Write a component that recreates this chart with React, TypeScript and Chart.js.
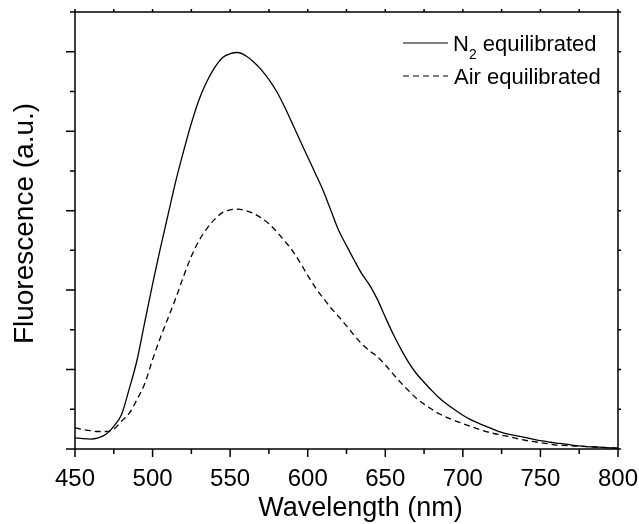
import React, { useEffect, useRef } from "react";
import { Chart, registerables } from "chart.js";

Chart.register(...registerables);

// ---- Data ----
const wavelengths = [
  450, 455, 460, 465, 470, 475, 480, 485, 490, 495, 500, 505, 510, 515, 520, 525, 530, 535, 540, 545,
  550, 555, 560, 565, 570, 575, 580, 585, 590, 595, 600, 605, 610, 615, 620, 625, 630, 635, 640, 645,
  650, 655, 660, 665, 670, 675, 680, 685, 690, 695, 700, 705, 710, 715, 720, 725, 730, 735, 740, 745,
  750, 755, 760, 765, 770, 775, 780, 785, 790, 795, 800,
];

const n2Values = [
  0.28, 0.26, 0.25, 0.28, 0.37, 0.57, 0.87, 1.52, 2.24, 3.2, 4.15, 5.05, 5.9, 6.75, 7.5, 8.2, 8.8, 9.25, 9.6, 9.85,
  9.95, 9.98, 9.9, 9.75, 9.55, 9.3, 9.0, 8.62, 8.2, 7.77, 7.35, 6.93, 6.5, 6.0, 5.5, 5.12, 4.75, 4.4, 4.12, 3.76,
  3.32, 2.9, 2.52, 2.18, 1.9, 1.68, 1.47, 1.28, 1.12, 0.98, 0.85, 0.74, 0.65, 0.57, 0.49, 0.42, 0.37, 0.33, 0.29, 0.25,
  0.21, 0.18, 0.15, 0.13, 0.1, 0.08, 0.06, 0.05, 0.04, 0.03, 0.02,
];

const airValues = [
  0.53, 0.49, 0.46, 0.44, 0.44, 0.5, 0.7, 0.9, 1.25, 1.65, 2.25, 2.8, 3.3, 3.8, 4.35, 4.85, 5.25, 5.55, 5.78, 5.95,
  6.02, 6.04, 6.0, 5.93, 5.82, 5.67, 5.47, 5.24, 5.0, 4.7, 4.37, 4.06, 3.8, 3.55, 3.33, 3.1, 2.86, 2.64, 2.47, 2.32,
  2.12, 1.89, 1.67, 1.47, 1.28, 1.13, 1.0, 0.88, 0.79, 0.71, 0.64, 0.57, 0.5, 0.44, 0.39, 0.35, 0.31, 0.26, 0.22, 0.19,
  0.16, 0.13, 0.1, 0.09, 0.08, 0.07, 0.06, 0.05, 0.04, 0.03, 0.02,
];

const xTickLabels = [450, 500, 550, 600, 650, 700, 750, 800];
const seriesNames = ["N", "2", " equilibrated", "Air equilibrated"];
const xTitle = "Wavelength (nm)";
const yTitle = "Fluorescence (a.u.)";

const FONT = "'Liberation Sans', Arial, Helvetica, sans-serif";

export default function App() {
  const canvasRef = useRef<HTMLCanvasElement | null>(null);

  useEffect(() => {
    document.body.style.margin = "0";
    const canvas = canvasRef.current;
    if (!canvas) return;

    const decorPlugin = {
      id: "decor",
      afterDraw(chart: any) {
        const { ctx, chartArea: a, scales } = chart;
        const xs = scales.x;
        const ys = scales.y;
        ctx.save();
        ctx.strokeStyle = "#000";
        ctx.fillStyle = "#000";
        ctx.lineWidth = 1.5;
        ctx.setLineDash([]);
        ctx.strokeRect(a.left, a.top, a.right - a.left, a.bottom - a.top);

        // x ticks (bottom outward, top small)
        xs.ticks.forEach((t: any) => {
          const px = xs.getPixelForValue(t.value);
          const major = xTickLabels.includes(t.value);
          ctx.beginPath();
          ctx.moveTo(px, a.bottom);
          ctx.lineTo(px, a.bottom + (major ? 8 : 5));
          ctx.moveTo(px, a.top);
          ctx.lineTo(px, a.top - 3);
          ctx.stroke();
        });
        // y ticks (left outward, right small)
        ys.ticks.forEach((t: any) => {
          const py = ys.getPixelForValue(t.value);
          const major = t.value % 2 === 0;
          ctx.beginPath();
          ctx.moveTo(a.left, py);
          ctx.lineTo(a.left - (major ? 9 : 5), py);
          ctx.moveTo(a.right, py);
          ctx.lineTo(a.right + 3, py);
          ctx.stroke();
        });

        // axis titles
        ctx.textAlign = "center";
        ctx.textBaseline = "alphabetic";
        ctx.font = `27px ${FONT}`;
        ctx.fillText(xTitle, (a.left + a.right) / 2 + 14, 516);
        ctx.save();
        ctx.font = `28px ${FONT}`;
        ctx.translate(33, (a.top + a.bottom) / 2 - 7);
        ctx.rotate(-Math.PI / 2);
        ctx.fillText(yTitle, 0, 0);
        ctx.restore();

        // legend
        const lx0 = a.right - 215;
        const lx1 = a.right - 170;
        const ty = a.top;
        ctx.lineWidth = 1.2;
        ctx.beginPath();
        ctx.moveTo(lx0, ty + 31);
        ctx.lineTo(lx1, ty + 31);
        ctx.stroke();
        ctx.setLineDash([6, 4]);
        ctx.beginPath();
        ctx.moveTo(lx0, ty + 64);
        ctx.lineTo(lx1, ty + 64);
        ctx.stroke();
        ctx.setLineDash([]);
        ctx.textAlign = "left";
        ctx.font = `22px ${FONT}`;
        let tx = lx1 + 5;
        ctx.fillText(seriesNames[0], tx, ty + 39);
        tx += ctx.measureText(seriesNames[0]).width;
        ctx.font = `14px ${FONT}`;
        ctx.fillText(seriesNames[1], tx, ty + 47);
        tx += ctx.measureText(seriesNames[1]).width;
        ctx.font = `22px ${FONT}`;
        ctx.fillText(seriesNames[2], tx, ty + 39);
        ctx.fillText(seriesNames[3], lx1 + 6, ty + 72);
        ctx.restore();
      },
    };

    const chart = new Chart(canvas, {
      type: "line",
      data: {
        datasets: [
          {
            label: "N2 equilibrated",
            data: wavelengths.map((w, i) => ({ x: w, y: n2Values[i] })),
            borderColor: "#000",
            borderWidth: 1.3,
            pointRadius: 0,
            cubicInterpolationMode: "monotone",
            fill: false,
          },
          {
            label: "Air equilibrated",
            data: wavelengths.map((w, i) => ({ x: w, y: airValues[i] })),
            borderColor: "#000",
            borderWidth: 1.3,
            borderDash: [6, 4],
            pointRadius: 0,
            cubicInterpolationMode: "monotone",
            fill: false,
          },
        ],
      },
      options: {
        responsive: false,
        animation: false,
        devicePixelRatio: 1,
        layout: { padding: { left: 0, right: 21, top: 12, bottom: 0 } },
        plugins: {
          legend: { display: false },
          tooltip: { enabled: false },
        },
        scales: {
          x: {
            type: "linear",
            min: 450,
            max: 800,
            grid: { display: false, drawTicks: false },
            border: { display: false },
            ticks: {
              stepSize: 25,
              autoSkip: false,
              maxRotation: 0,
              padding: 16,
              color: "#000",
              font: { family: FONT, size: 24 },
              callback: (v: any) => (xTickLabels.includes(Number(v)) ? String(v) : ""),
            },
            afterFit: (s: any) => {
              s.height = 75;
              s.paddingLeft = 0;
              s.paddingRight = 0;
            },
          },
          y: {
            type: "linear",
            min: 0,
            max: 11,
            grid: { display: false, drawTicks: false },
            border: { display: false },
            ticks: { stepSize: 1, display: false },
            afterFit: (s: any) => {
              s.width = 75;
              s.paddingTop = 0;
              s.paddingBottom = 0;
            },
          },
        },
      },
      plugins: [decorPlugin],
    });

    return () => chart.destroy();
  }, []);

  return (
    <div style={{ width: 639, height: 524 }}>
      <canvas ref={canvasRef} width={639} height={524} />
    </div>
  );
}
